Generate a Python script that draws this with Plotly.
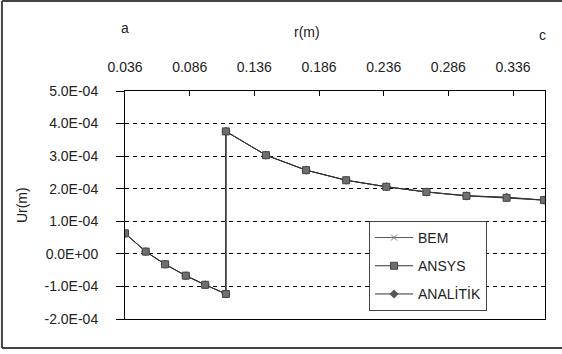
import plotly.graph_objects as go

# radius values (m)
r_vals = [0.036, 0.052, 0.067, 0.083, 0.098, 0.114,
          0.114, 0.145, 0.176, 0.207, 0.238, 0.269, 0.300, 0.331, 0.360]
# radial displacement (m)
bem = [6.3e-5, 7e-6, -3.2e-5, -6.7e-5, -9.5e-5, -1.23e-4,
       3.76e-4, 3.03e-4, 2.57e-4, 2.26e-4, 2.06e-4, 1.90e-4, 1.79e-4, 1.73e-4, 1.65e-4]
ansys = [6.3e-5, 7e-6, -3.2e-5, -6.7e-5, -9.5e-5, -1.23e-4,
         3.76e-4, 3.03e-4, 2.57e-4, 2.26e-4, 2.06e-4, 1.90e-4, 1.78e-4, 1.72e-4, 1.65e-4]
analitik = [6.3e-5, 7e-6, -3.2e-5, -6.7e-5, -9.5e-5, -1.23e-4,
            3.76e-4, 3.03e-4, 2.57e-4, 2.26e-4, 2.06e-4, 1.90e-4, 1.78e-4, 1.74e-4, 1.65e-4]

x_ticks = [0.036, 0.086, 0.136, 0.186, 0.236, 0.286, 0.336]
x_ticktext = ["0.036", "0.086", "0.136", "0.186", "0.236", "0.286", "0.336"]
y_ticks = [5e-4, 4e-4, 3e-4, 2e-4, 1e-4, 0, -1e-4, -2e-4]
y_ticktext = ["5.0E-04", "4.0E-04", "3.0E-04", "2.0E-04", "1.0E-04", "0.0E+00", "-1.0E-04", "-2.0E-04"]

FONT = "Liberation Sans, Arial, sans-serif"
TXT = "#222222"

fig = go.Figure()
fig.add_trace(go.Scatter(
    x=r_vals, y=bem, name="BEM", mode="lines+markers",
    line=dict(color="#555555", width=1),
    marker=dict(symbol="x-thin", size=6, line=dict(color="#777777", width=1), color="#777777"),
    legendgroup="g1", legendrank=1))
fig.add_trace(go.Scatter(
    x=r_vals, y=analitik, name="ANALİTİK", mode="lines+markers",
    line=dict(color="#333333", width=1),
    marker=dict(symbol="diamond", size=7, color="#555555"),
    legendgroup="g3", legendrank=3))
fig.add_trace(go.Scatter(
    x=r_vals, y=ansys, name="ANSYS", mode="lines+markers",
    line=dict(color="#333333", width=1, dash="solid"),
    marker=dict(symbol="square", size=7, color="#6f6f6f", line=dict(color="#444444", width=1)),
    legendgroup="g2", legendrank=2))

fig.update_layout(
    width=562, height=354,
    margin=dict(l=125, r=17, t=91, b=35),
    paper_bgcolor="white", plot_bgcolor="white",
    font=dict(family=FONT, size=14, color=TXT),
    showlegend=True,
    legend=dict(
        x=0.581, y=0.43, xanchor="left", yanchor="top",
        bgcolor="white", bordercolor="#444444", borderwidth=1,
        font=dict(family=FONT, size=14, color=TXT),
        traceorder="grouped", tracegroupgap=7, itemwidth=38),
)

fig.update_xaxes(
    range=[0.036, 0.3607], side="top",
    tickmode="array", tickvals=x_ticks, ticktext=x_ticktext,
    ticks="inside", ticklen=5, tickcolor="black",
    showline=True, linecolor="black", linewidth=1, mirror=True,
    showgrid=False, zeroline=False,
    ticklabelstandoff=12,
    tickfont=dict(family=FONT, size=14, color=TXT),
)
fig.update_yaxes(
    range=[-2e-4, 5e-4],
    tickmode="array", tickvals=y_ticks, ticktext=y_ticktext,
    ticks="outside", ticklen=8, tickcolor="black",
    showline=True, linecolor="black", linewidth=1, mirror=True,
    showgrid=True, gridcolor="black", gridwidth=1, griddash="4px,4px",
    zeroline=False,
    ticklabelstandoff=15,
    tickfont=dict(family=FONT, size=14, color=TXT),
)

# axis labels / end markers above the top axis
fig.add_annotation(x=0.036, y=1, xref="x", yref="paper", yshift=63, text="a",
                   xanchor="center", yanchor="middle",
                   showarrow=False, font=dict(size=14, color=TXT))
fig.add_annotation(x=0.4345, y=1, xref="paper", yref="paper", yshift=59, text="r(m)",
                   xanchor="center", yanchor="middle",
                   showarrow=False, font=dict(size=14, color=TXT))
fig.add_annotation(x=0.994, y=1, xref="paper", yref="paper", yshift=56, text="c",
                   xanchor="center", yanchor="middle",
                   showarrow=False, font=dict(size=14, color=TXT))
fig.add_annotation(x=-0.245, y=0.5, xref="paper", yref="paper", text="Ur(m)",
                   xanchor="center", yanchor="middle",
                   textangle=-90, showarrow=False, font=dict(size=14, color=TXT))

# outer frame of the chart
fig.add_shape(type="line", xref="paper", yref="paper", x0=-0.293, x1=-0.293, y0=-0.127, y1=1.395,
              line=dict(color="#444444", width=2))
fig.add_shape(type="line", xref="paper", yref="paper", x0=-0.293, x1=1.05, y0=1.395, y1=1.395,
              line=dict(color="#444444", width=2))
fig.add_shape(type="line", xref="paper", yref="paper", x0=-0.293, x1=1.05, y0=-0.127, y1=-0.127,
              line=dict(color="#444444", width=2))

fig.write_html("out.html")
